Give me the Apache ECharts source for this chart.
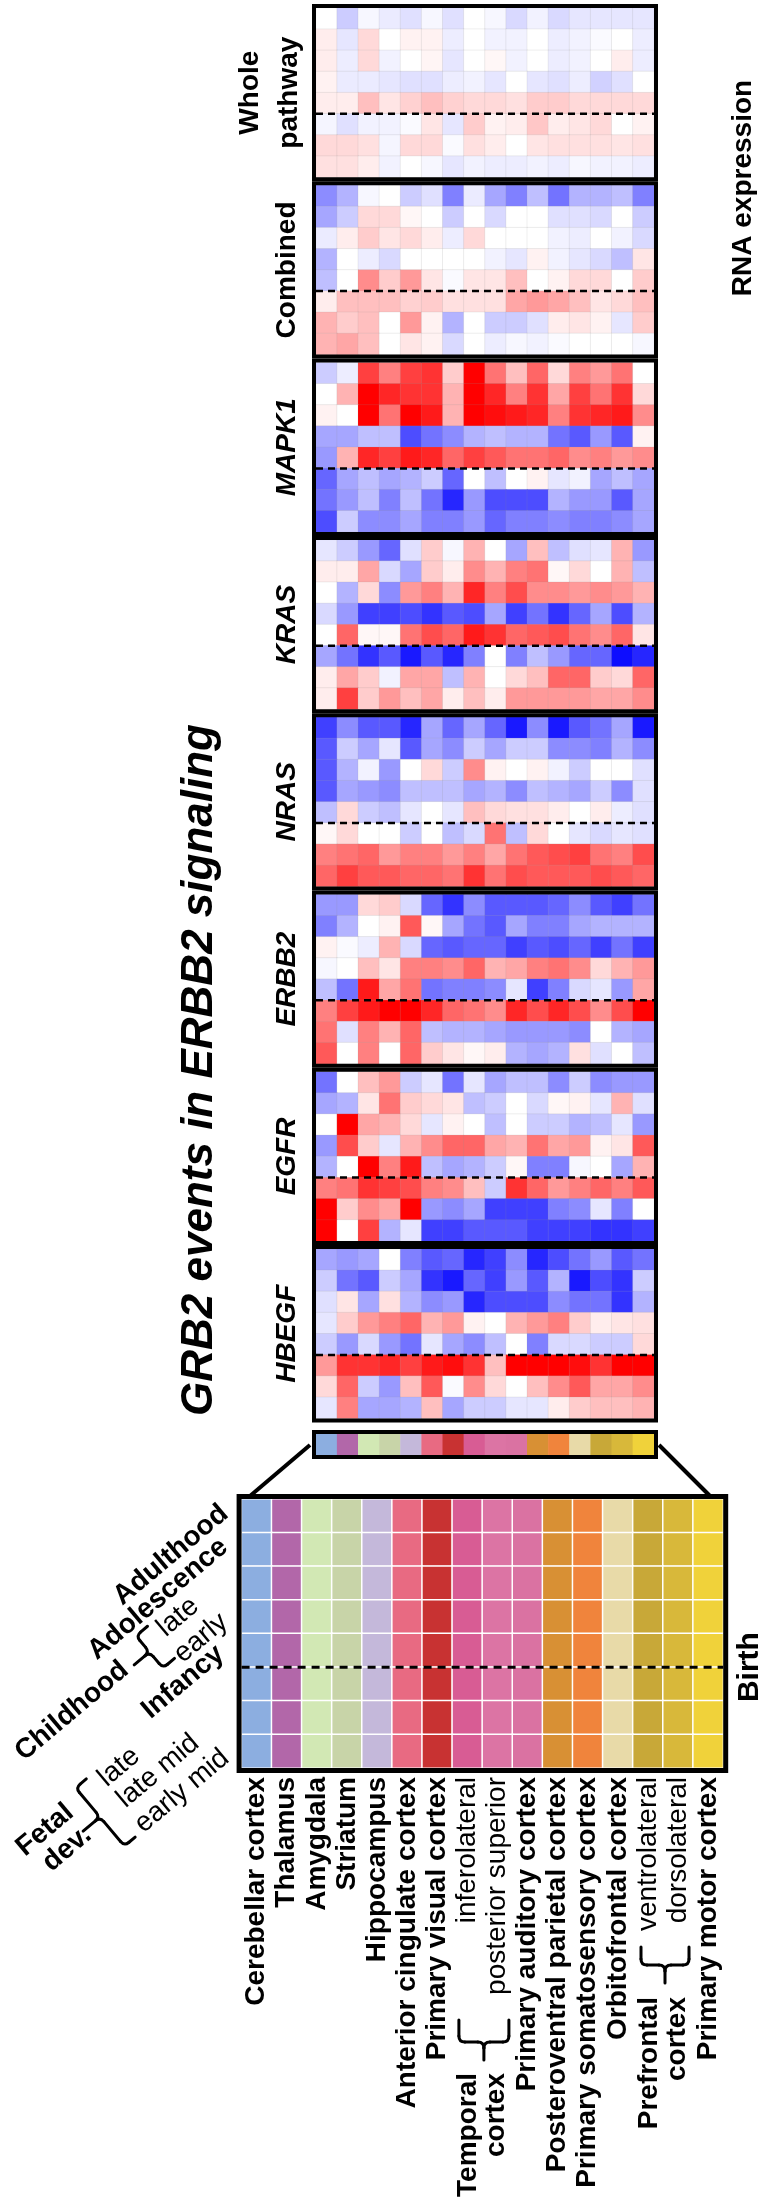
<!DOCTYPE html>
<html><head><meta charset="utf-8">
<script src="https://cdn.jsdelivr.net/npm/echarts@6/dist/echarts.min.js"></script>
<style>html,body{margin:0;padding:0;background:#fff}#c{width:763px;height:2212px}</style>
</head><body><div id="c"></div>
<script>
// ---------------- DATA ----------------
const stages = ['Adulthood','Adolescence','Childhood late','Childhood early','Infancy','Fetal late','Fetal late mid','Fetal early mid'];
const regions = ['Cerebellar cortex','Thalamus','Amygdala','Striatum','Hippocampus','Anterior cingulate cortex','Primary visual cortex','Temporal cortex inferolateral','Temporal cortex posterior superior','Primary auditory cortex','Posteroventral parietal cortex','Primary somatosensory cortex','Orbitofrontal cortex','Prefrontal cortex ventrolateral','Prefrontal cortex dorsolateral','Primary motor cortex'];
const regionLabels = ['Cerebellar cortex','Thalamus','Amygdala','Striatum','Hippocampus','Anterior cingulate cortex','Primary visual cortex','inferolateral','posterior superior','Primary auditory cortex','Posteroventral parietal cortex','Primary somatosensory cortex','Orbitofrontal cortex','ventrolateral','dorsolateral','Primary motor cortex'];
const thinLabelIdx = [7, 8, 13, 14];
const regionColors = ['#8caee0','#b267a9','#d2e8b4','#c8d4a8','#c4b8da','#e86a82','#c83232','#d85c94','#dc74a4','#da72a2','#d89034','#f0843c','#e8daa8','#c8a838','#d8b83a','#f0d23a'];
const panelLabels = [['Whole','pathway'],['Combined'],['MAPK1'],['KRAS'],['NRAS'],['ERBB2'],['EGFR'],['HBEGF']];
const titleText = 'GRB2 events in ERBB2 signaling';

const wholePathway = [
[0,-0.2,-0.03,-0.08,-0.12,-0.03,-0.12,0,-0.03,-0.15,-0.05,-0.15,-0.1,-0.1,-0.1,-0.1],
[0.07,-0.1,0.15,0,0.05,0.05,-0.07,0,-0.05,-0.05,0,-0.07,-0.05,-0.02,0,-0.07],
[0.07,-0.07,0.15,-0.05,0,0.04,-0.1,0,0.03,-0.05,0,-0.07,-0.05,0,0.07,-0.07],
[0.05,-0.08,-0.08,-0.1,-0.12,-0.12,-0.07,-0.05,-0.1,0,-0.1,-0.12,-0.07,-0.18,-0.12,0],
[0.07,0.07,0.25,0.1,0.18,0.25,0.18,0.15,0.15,0.12,0.2,0.2,0.15,0.15,0.15,0.15],
[-0.04,-0.12,-0.05,-0.05,-0.02,0.1,-0.1,0.2,0.05,0.07,0.22,0.07,0.1,0.15,0,0.05],
[0.15,0.15,0.12,-0.04,0.15,0.15,-0.02,0.12,0.07,0,0.1,0.12,0.12,0.12,0.1,0.12],
[0.12,0.12,0.07,-0.05,0,-0.03,-0.1,-0.05,-0.07,-0.07,-0.05,-0.07,-0.03,-0.05,-0.05,-0.07]
];
const combined = [
[-0.45,-0.3,-0.03,0,-0.2,-0.12,-0.5,-0.08,-0.35,-0.5,-0.25,-0.55,-0.3,-0.3,-0.25,-0.5],
[-0.35,-0.2,0.15,0.15,0.03,0,-0.2,0,-0.15,0,0,-0.12,-0.12,-0.15,0,-0.2],
[-0.08,0.07,0.2,0.1,0.15,0.07,-0.07,0.15,0,0,0,-0.05,-0.07,0,-0.05,-0.15],
[-0.3,0,-0.07,-0.15,0,0,0,0,-0.05,-0.1,0.05,-0.05,-0.1,-0.15,-0.25,0.1],
[-0.25,0,0.45,0.2,0.4,0.1,-0.02,0.1,0.1,0.25,0,0.05,0.15,0.15,0,0.2],
[0.07,0.25,0.25,0.25,0.18,0.2,0.12,0.12,0.12,0.35,0.4,0.35,0.25,0.1,0.15,0.25],
[0.3,0.2,0.25,0,0.4,0.05,-0.3,0,-0.2,-0.2,-0.12,0.07,0.1,0.05,-0.1,0.2],
[0.3,0.35,0.25,0,0.1,0.05,-0.15,0,-0.07,-0.03,-0.05,-0.02,0,0,0,-0.03]
];
const mapk1 = [
[-0.2,-0.07,0.75,0.5,0.75,0.8,0.2,1,0.55,0.25,0.6,0.15,0.5,0.4,0.55,0],
[0,0.3,1,0.85,0.8,0.8,0.3,1,0.85,0.5,0.8,0.35,0.75,0.55,0.8,0.15],
[0.05,0,1,0.55,1,0.9,0.3,1,0.95,0.9,0.85,0.5,0.8,0.85,0.9,0.45],
[-0.35,-0.35,-0.25,-0.25,-0.7,-0.55,-0.45,-0.3,-0.25,-0.3,-0.3,-0.55,-0.65,-0.4,-0.65,0.05],
[-0.4,0.3,0.85,0.75,0.9,0.85,0.6,0.75,0.65,0.55,0.55,0.6,0.45,0.5,0.4,0.45],
[-0.6,-0.35,-0.25,-0.35,-0.3,-0.2,-0.6,0,-0.25,0,0.05,-0.1,-0.05,-0.35,-0.25,-0.35],
[-0.55,-0.4,-0.25,-0.5,-0.25,-0.55,-0.85,-0.4,-0.7,-0.7,-0.7,-0.3,-0.4,-0.4,-0.65,-0.35],
[-0.7,-0.2,-0.45,-0.45,-0.35,-0.5,-0.5,-0.4,-0.6,-0.5,-0.5,-0.45,-0.5,-0.5,-0.45,-0.35]
];
const kras = [
[-0.1,-0.2,-0.4,-0.6,-0.12,0.2,-0.03,0.3,0,-0.35,0.25,-0.25,-0.12,-0.1,0.3,-0.4],
[0.07,0.07,0.35,-0.15,-0.35,0.2,0.07,0.45,0.3,0.5,0.55,0.03,0.15,0,0.3,-0.25],
[0,-0.3,0.15,-0.45,0.4,0.5,0.3,0.85,0.5,0.7,0.45,0.45,0.4,0.45,0.4,0.3],
[-0.15,-0.4,-0.75,-0.75,-0.7,-0.8,-0.65,-0.7,-0.35,-0.75,-0.55,-0.8,-0.6,-0.35,-0.7,-0.3],
[0,0.6,0.03,0.03,0.55,0.7,0.6,0.9,0.8,0.6,0.65,0.7,0.55,0.45,0.6,0.1],
[-0.35,-0.55,-0.8,-0.65,-0.9,-0.65,-0.85,-0.5,0,-0.5,-0.25,-0.4,-0.6,-0.6,-0.95,-0.85],
[0.07,0.35,0.2,-0.05,0.35,0.35,-0.25,0.3,0,0.15,0.25,0.6,0.6,0.2,0.15,0.6],
[0.07,0.75,0.2,0.4,0.25,0.35,0.07,0.25,0.07,0.4,0.4,0.4,0.4,0.35,0.35,0.45]
];
const nras = [
[-0.75,-0.45,-0.65,-0.65,-0.85,-0.35,-0.6,-0.35,-0.6,-0.9,-0.45,-0.9,-0.65,-0.55,-0.35,-0.9],
[-0.65,-0.2,-0.35,-0.1,-0.65,-0.35,-0.45,-0.2,-0.35,-0.2,-0.2,-0.45,-0.45,-0.5,-0.3,-0.45],
[-0.65,-0.3,-0.05,-0.4,0,0.15,-0.2,0.45,0.05,0,0.05,-0.05,-0.2,0,0,-0.12],
[-0.65,-0.35,-0.4,-0.45,-0.25,-0.25,-0.25,-0.35,-0.3,-0.45,-0.25,-0.3,-0.35,-0.2,-0.45,-0.12],
[-0.25,0.15,-0.2,-0.25,-0.1,0,-0.1,0.25,0.15,0.12,0.12,0.07,0,0.07,-0.07,-0.12],
[0.03,0.15,0,0,-0.2,0,-0.25,-0.15,0.55,-0.25,0.15,0,-0.1,-0.15,-0.1,-0.12],
[0.5,0.55,0.6,0.4,0.5,0.5,0.4,0.5,0.35,0.55,0.65,0.7,0.75,0.55,0.5,0.7],
[0.6,0.75,0.65,0.65,0.6,0.6,0.55,0.8,0.55,0.7,0.65,0.65,0.65,0.7,0.65,0.6]
];
const erbb2 = [
[-0.4,-0.4,0.15,0.2,-0.15,-0.6,-0.8,-0.45,-0.65,-0.65,-0.65,-0.6,-0.45,-0.65,-0.75,-0.55],
[-0.5,-0.3,0,0.05,0.65,0.03,-0.35,-0.55,-0.65,-0.35,-0.5,-0.5,-0.35,-0.3,-0.3,-0.3],
[0.05,-0.02,-0.07,0.3,-0.15,-0.6,-0.65,-0.6,-0.6,-0.75,-0.65,-0.7,-0.6,-0.75,-0.55,-0.75],
[-0.03,0,0.25,0.1,0.5,0.5,0.45,0.6,0.3,0.35,0.5,0.55,0.45,0.15,0.3,0.4],
[-0.25,-0.55,0.9,0.35,0.55,-0.55,-0.5,-0.5,-0.45,-0.1,-0.75,-0.5,-0.15,-0.1,-0.4,0.35],
[0.5,0.75,0.9,1,1,0.85,0.6,0.55,0.45,0.85,0.7,0.85,0.7,0.45,0.7,1],
[0.55,-0.12,0.5,0.3,0.6,-0.25,-0.3,-0.3,-0.35,-0.4,-0.4,-0.4,-0.45,0,-0.3,-0.35],
[0.65,0,0.5,0,0.6,0.2,0.1,0.03,0.07,-0.3,-0.35,-0.3,0.12,-0.12,0,-0.25]
];
const egfr = [
[-0.55,0,0.25,0.4,-0.2,-0.1,-0.55,-0.1,-0.35,-0.25,-0.25,-0.45,-0.2,-0.45,-0.4,-0.4],
[-0.35,-0.3,0.1,0.55,0.2,0.15,0.1,-0.25,-0.2,0,-0.15,0.03,0.05,-0.1,0.3,-0.12],
[0,1,0.35,0.3,0.15,-0.1,0.05,0,-0.25,0,-0.2,-0.2,-0.3,-0.25,-0.1,-0.4],
[-0.4,0.7,0.2,-0.1,0.3,0.45,0.6,0.6,0.35,0.3,0.55,0.35,0.4,0.05,0.1,0.65],
[-0.3,0,1,0.5,0.9,-0.25,-0.35,-0.3,-0.2,0.03,-0.5,-0.5,-0.03,0,-0.35,0.3],
[0.5,0.55,0.8,0.75,0.7,0.5,0.45,0.25,-0.2,0.8,0.6,0.4,0.5,0.6,0.5,0.65],
[1,0.2,0.45,0.35,1,-0.4,-0.45,-0.35,-0.75,-0.75,-0.75,-0.5,-0.45,-0.1,-0.5,0],
[1,0,0.75,-0.3,-0.1,-0.75,-0.75,-0.65,-0.65,-0.65,-0.75,-0.75,-0.75,-0.8,-0.8,-0.75]
];
const hbegf = [
[-0.35,-0.4,-0.35,0,-0.5,-0.65,-0.6,-0.85,-0.75,-0.45,-0.85,-0.7,-0.55,-0.4,-0.65,-0.55],
[-0.2,-0.55,-0.65,-0.2,-0.35,-0.8,-0.9,-0.6,-0.75,-0.4,-0.65,-0.3,-0.9,-0.7,-0.8,-0.2],
[-0.12,0.1,-0.35,0.12,-0.3,-0.45,-0.4,-0.85,-0.7,-0.7,-0.7,-0.45,-0.55,-0.55,-0.8,-0.3],
[-0.1,0.2,0.4,0.5,0.6,0.3,0.4,0.05,0,0.3,0.4,0.5,0.2,0.07,0.1,0.12],
[-0.2,-0.4,-0.15,-0.4,-0.55,-0.1,-0.35,-0.45,-0.25,0,-0.5,-0.15,-0.15,-0.2,-0.2,0.15],
[0.4,0.8,0.8,0.85,0.75,0.9,0.95,0.8,0.25,1,1,1,0.95,0.8,1,1],
[0.15,0.6,-0.2,-0.4,0.25,0.65,-0.02,0.45,0.15,0,0.25,0.45,0.65,0.35,0.35,0.45],
[-0.1,0.5,-0.35,-0.35,-0.3,0.25,-0.35,-0.2,-0.2,-0.1,-0.1,0.07,0.2,0.25,0.25,0.3]
];

// ---------------- LAYOUT ----------------
const FONT = '"Liberation Sans", Arial, Helvetica, sans-serif';
const panels = [wholePathway, combined, mapk1, kras, nras, erbb2, egfr, hbegf];
const italicPanel = [false,false,true,true,true,true,true,true];
const PX = 316, PW = 338, PT0 = 8, PITCH = 177.3, PH = 169.3;
const SX = 316, SY = 1434, SW = 338, SH = 21;
const LX = 241.6, LY = 1499, LW = 481.6, LH = 269;
const DEG = Math.PI / 180;

const grids = [], xAxes = [], yAxes = [], series = [], G = [];

function txt(x, y, text, o) {
  o = o || {};
  return { type: 'text', x: x, y: y, rotation: o.rot || 0, z: 120,
    style: { text: text, fill: '#000', fontFamily: FONT, fontSize: o.size || 28,
      fontWeight: o.bold === false ? 'normal' : 'bold', fontStyle: o.italic ? 'italic' : 'normal',
      align: o.align || 'center', verticalAlign: 'middle', lineHeight: o.lh || 28 } };
}
function brace(cx, cy, h, d, t, rot) {
  const r = 6, s = { stroke: '#000', lineWidth: 3, fill: null, lineCap: 'round' };
  const L = (x1, y1, x2, y2) => ({ type: 'line', shape: { x1, y1, x2, y2 }, style: s });
  const Q = (x1, y1, cx1, cy1, x2, y2) => ({ type: 'bezierCurve', shape: { x1, y1, cpx1: cx1, cpy1: cy1, x2, y2 }, style: s });
  return { type: 'group', x: cx, y: cy, rotation: rot, z: 120, children: [
    L(d, -h, r, -h), Q(r, -h, 0, -h, 0, -h + r), L(0, -h + r, 0, -r),
    Q(0, -r, 0, 0, -r, 0), L(-r, 0, -t, 0), Q(0, r, 0, 0, -r, 0),
    L(0, r, 0, h - r), Q(0, h - r, 0, h, r, h), L(r, h, d, h)
  ] };
}

panels.forEach((m, k) => {
  const top = PT0 + PITCH * k;
  grids.push({ left: PX, top: top, width: PW, height: PH, containLabel: false, outerBoundsMode: 'none' });
  xAxes.push({ type: 'category', gridIndex: k, data: regions, show: false });
  yAxes.push({ type: 'category', gridIndex: k, data: stages, inverse: true, show: false });
  const data = [];
  m.forEach((row, r) => row.forEach((v, c) => data.push([c, r, v])));
  series.push({ type: 'heatmap', xAxisIndex: k, yAxisIndex: k, data: data,
    itemStyle: { borderColor: 'rgba(150,150,150,0.25)', borderWidth: 0.6 }, emphasis: { disabled: true } });
  G.push({ type: 'rect', z: 110, shape: { x: PX - 2, y: top - 2, width: PW + 4, height: PH + 4 }, style: { fill: null, stroke: '#000', lineWidth: 4 } });
  const dy = top + PH * 5 / 8;
  G.push({ type: 'line', z: 110, shape: { x1: PX, y1: dy, x2: PX + PW, y2: dy }, style: { stroke: '#000', lineWidth: 2.5, lineDash: [7, 5] } });
  const cy = top + PH / 2, lab = panelLabels[k];
  if (lab.length === 2) {
    G.push(txt(250, cy, lab[0], { rot: 90 * DEG }));
    G.push(txt(289, cy, lab[1], { rot: 90 * DEG }));
  } else {
    G.push(txt(287, cy, lab[0], { rot: 90 * DEG, italic: italicPanel[k] }));
  }
});

// color strip (grid 8)
grids.push({ left: SX, top: SY, width: SW, height: SH, containLabel: false, outerBoundsMode: 'none' });
xAxes.push({ type: 'category', gridIndex: 8, data: regions, show: false });
yAxes.push({ type: 'category', gridIndex: 8, data: [''], show: false });
series.push({ type: 'heatmap', xAxisIndex: 8, yAxisIndex: 8, emphasis: { disabled: true },
  data: regions.map((n, c) => ({ value: [c, 0, c], itemStyle: { color: regionColors[c] } })) });
G.push({ type: 'rect', z: 110, shape: { x: SX - 2, y: SY - 2, width: SW + 4, height: SH + 4 }, style: { fill: null, stroke: '#000', lineWidth: 4 } });

// legend grid (grid 9)
grids.push({ left: LX, top: LY, width: LW, height: LH, containLabel: false, outerBoundsMode: 'none' });
xAxes.push({ type: 'category', gridIndex: 9, data: regionLabels, position: 'bottom',
  axisLine: { show: false }, axisTick: { show: false }, splitLine: { show: false },
  axisLabel: { show: true, interval: 0, rotate: 90, margin: 9, color: '#000', fontFamily: FONT, fontSize: 28, fontWeight: 'bold',
    formatter: (v, i) => thinLabelIdx.indexOf(i) >= 0 ? '{t|' + v + '}' : v,
    rich: { t: { fontWeight: 'normal', fontSize: 28, fontFamily: FONT, color: '#000' } } } });
yAxes.push({ type: 'category', gridIndex: 9, data: stages, inverse: true, show: false });
const legendData = [];
stages.forEach((s, r) => regions.forEach((n, c) => legendData.push({ value: [c, r, c], itemStyle: { color: regionColors[c] } })));
series.push({ type: 'heatmap', xAxisIndex: 9, yAxisIndex: 9, data: legendData, emphasis: { disabled: true },
  itemStyle: { borderColor: '#ffffff', borderWidth: 1.5 } });
G.push({ type: 'rect', z: 110, shape: { x: LX - 2.5, y: LY - 2.5, width: LW + 5, height: LH + 5 }, style: { fill: null, stroke: '#000', lineWidth: 5 } });
const bdy = LY + LH * 5 / 8;
G.push({ type: 'line', z: 110, shape: { x1: LX, y1: bdy, x2: LX + LW, y2: bdy }, style: { stroke: '#000', lineWidth: 3, lineDash: [8, 6] } });

// connectors
G.push({ type: 'line', z: 110, shape: { x1: 310, y1: 1445, x2: 250, y2: 1496 }, style: { stroke: '#000', lineWidth: 4 } });
G.push({ type: 'line', z: 110, shape: { x1: 659, y1: 1445, x2: 710, y2: 1496 }, style: { stroke: '#000', lineWidth: 4 } });

// titles
G.push(txt(200, 1070, titleText, { rot: 90 * DEG, size: 44, italic: true }));
G.push(txt(743, 188, 'RNA expression', { rot: 90 * DEG }));
G.push(txt(750, bdy, 'Birth', { rot: 90 * DEG, size: 30 }));

// developmental stage labels (left of legend)
const R40 = 40 * DEG;
G.push(txt(171, 1555, 'Adulthood', { rot: R40 }));
G.push(txt(158, 1599, 'Adolescence', { rot: R40 }));
G.push(txt(72, 1711, 'Childhood', { rot: R40 }));
G.push(txt(178, 1617, 'late', { rot: R40, bold: false }));
G.push(txt(201, 1638, 'early', { rot: R40, bold: false }));
G.push(txt(183, 1682, 'Infancy', { rot: R40 }));
G.push(txt(119, 1767, 'late', { rot: R40, bold: false }));
G.push(txt(158, 1771, 'late mid', { rot: R40, bold: false }));
G.push(txt(182, 1791, 'early mid', { rot: R40, bold: false }));
G.push(txt(45, 1830, 'Fetal', { rot: R40 }));
G.push(txt(67, 1849, 'dev.', { rot: R40 }));
G.push(brace(149.5, 1652, 21, 15, 20, R40));
G.push(brace(100, 1817, 38, 14, 22, R40));

// grouped region labels (below legend)
const colW = LW / 16;
G.push(txt(LX + colW * 8 - 0.5, 2073, 'Temporal\ncortex', { rot: 90 * DEG, align: 'right' }));
G.push(txt(LX + colW * 14 + 0.5, 1997, 'Prefrontal\ncortex', { rot: 90 * DEG, align: 'right' }));
G.push(brace(LX + colW * 8 + 1.5, 2042, 25, 22, 18, 90 * DEG));
G.push(brace(LX + colW * 14 + 2, 1965, 24, 18, 18, 90 * DEG));

const option = {
  animation: false,
  backgroundColor: '#ffffff',
  grid: grids, xAxis: xAxes, yAxis: yAxes, series: series,
  visualMap: { type: 'continuous', show: false, min: -1, max: 1, seriesIndex: [0,1,2,3,4,5,6,7],
    inRange: { color: ['#0000ff', '#ffffff', '#ff0000'] } },
  graphic: { elements: G }
};
const chart = echarts.init(document.getElementById('c'), null, { renderer: 'canvas', width: 763, height: 2212 });
chart.setOption(option);
</script>
</body></html>
